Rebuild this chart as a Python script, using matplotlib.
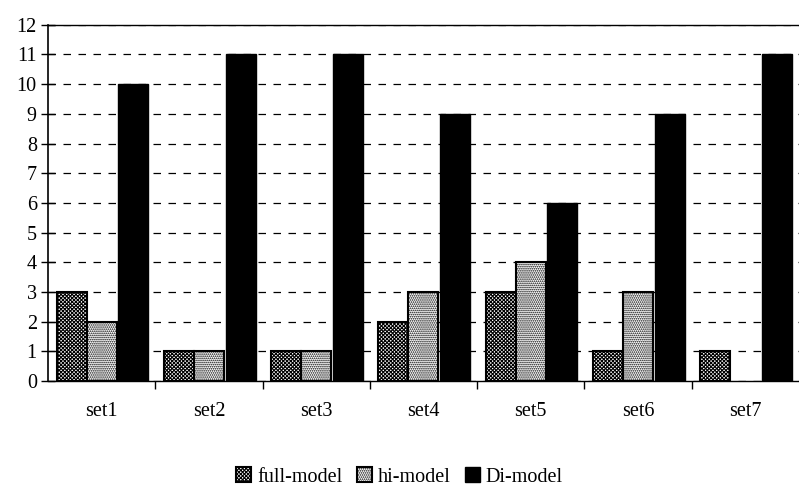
import numpy as np
import matplotlib.pyplot as plt

categories = ['set1', 'set2', 'set3', 'set4', 'set5', 'set6', 'set7']
full_model = [3, 1, 1, 2, 3, 1, 1]
hi_model = [2, 1, 1, 3, 4, 3, 0]
di_model = [10, 11, 11, 9, 6, 9, 11]

plt.rcParams['font.family'] = ['Liberation Serif', 'DejaVu Serif']
plt.rcParams['hatch.linewidth'] = 0.8

fig = plt.figure(figsize=(7.99, 4.86), dpi=100)
ax = fig.add_axes([0.060, 0.216, 0.940, 0.733])

x = np.arange(len(categories))
w = 0.28

ax.bar(x - w, full_model, w, color='white', edgecolor='black', hatch='xxxxxxxxx',
       linewidth=1.5, label='full-model', zorder=3)
# no outline for empty bars
hi_lw = [1.5 if v > 0 else 0 for v in hi_model]
ax.bar(x, hi_model, w, color='white', edgecolor='black', hatch='........',
       linewidth=hi_lw, label='hi-model', zorder=3)
ax.bar(x + w + 0.015, di_model, w, color='black', edgecolor='black',
       linewidth=1.0, label='Di-model', zorder=3)

ax.set_xlim(-0.5, len(categories) - 0.5)
ax.set_ylim(0, 12)
ax.set_yticks(range(0, 13))
ax.yaxis.grid(True, linestyle=(0, (6, 6)), color='black', linewidth=0.9)
ax.set_axisbelow(True)

ax.set_xticks(x)
ax.set_xticklabels(categories, fontsize=14.5)
ax.tick_params(axis='x', which='major', length=0, pad=15)
ax.set_xticks(np.arange(0.5, len(categories) - 0.5, 1), minor=True)
ax.tick_params(axis='x', which='minor', length=6, width=1, direction='out')
ax.tick_params(axis='y', direction='inout', length=10, width=1, labelsize=14.5, pad=3)

ax.spines['right'].set_visible(False)
ax.spines['top'].set_linewidth(1)
ax.spines['left'].set_linewidth(1.2)
ax.spines['bottom'].set_linewidth(1)

fig.legend(loc='center', bbox_to_anchor=(0.5, 0.019), ncol=3, frameon=False,
           fontsize=14.5, handlelength=0.75, handleheight=0.8, handletextpad=0.3,
           columnspacing=0.7, borderpad=0)

fig.savefig('out.png', dpi=100)
